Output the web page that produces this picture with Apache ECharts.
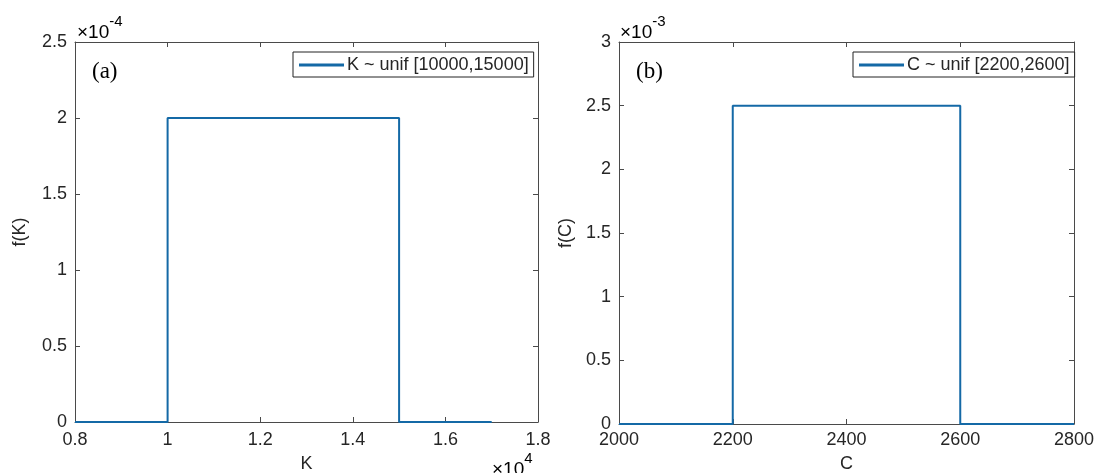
<!DOCTYPE html>
<html>
<head>
<meta charset="utf-8">
<script src="https://cdn.jsdelivr.net/npm/echarts@6/dist/echarts.min.js"></script>
<style>
html,body{margin:0;padding:0;background:#fff;}
#main{width:1098px;height:473px;}
</style>
</head>
<body>
<div id="main"></div>
<script>
// ---- data ----
const kX = [8000, 10000, 10000, 15000, 15000, 17000];
const kY = [0, 0, 2e-4, 2e-4, 0, 0];
const cX = [2000, 2200, 2200, 2200, 2600, 2600, 2800];
const cY = [0, 0, 1.25e-3, 2.5e-3, 2.5e-3, 0, 0];
const kName = 'K ~ unif [10000,15000]';
const cName = 'C ~ unif [2200,2600]';
const kXTicks = [0.8, 1, 1.2, 1.4, 1.6, 1.8];
const kYTicks = [0, 0.5, 1, 1.5, 2, 2.5];
const cXTicks = [2000, 2200, 2400, 2600, 2800];
const cYTicks = [0, 0.5, 1, 1.5, 2, 2.5, 3];

const lineColor = '#1469a6';
const axisColor = '#4a4a4a';
const textColor = '#262626';
const fontFam = '"Liberation Sans", Arial, sans-serif';
const fs = 18;

function pairs(xs, ys){ return xs.map((x,i)=>[x, ys[i]]); }
function fmt(v, s){ return String(parseFloat((v*s).toFixed(3))); }

function baseAxis(extra){
  return Object.assign({
    axisLine:{show:true, onZero:false, lineStyle:{color:axisColor, width:1}},
    axisTick:{show:true, inside:true, length:5, lineStyle:{color:axisColor}},
    splitLine:{show:false},
    nameTextStyle:{color:textColor, fontSize:fs, fontFamily:fontFam}
  }, extra);
}
function mirror(grid, min, max, interval, pos){
  return {
    type:'value', gridIndex:grid, min:min, max:max, interval:interval, position:pos,
    axisLine:{show:true, onZero:false, lineStyle:{color:axisColor, width:1}},
    axisTick:{show:true, inside:true, length:5, lineStyle:{color:axisColor}},
    axisLabel:{show:false}, splitLine:{show:false}
  };
}
function lbl(margin, formatter){
  return {color:textColor, fontSize:fs, fontFamily:fontFam, margin:margin, formatter:formatter};
}
const expRich = {
  a:{fontSize:19, fontFamily:fontFam, color:textColor, verticalAlign:'bottom', padding:[9,0,0,0]},
  b:{fontSize:15, fontFamily:fontFam, color:textColor, verticalAlign:'top'}
};

const chart = echarts.init(document.getElementById('main'));
const option = {
  backgroundColor:'#fff',
  animation:false,
  grid:[
    {left:75, top:42, width:463, height:380, containLabel:false, outerBoundsMode:'none'},
    {left:619, top:42, width:455, height:382, containLabel:false, outerBoundsMode:'none'}
  ],
  xAxis:[
    baseAxis({type:'value', gridIndex:0, min:8000, max:18000, interval:2000, position:'bottom',
      name:'K', nameLocation:'middle', nameGap:33,
      axisLabel:lbl(9, v=>fmt(v,1e-4))}),
    baseAxis({type:'value', gridIndex:1, min:2000, max:2800, interval:200, position:'bottom',
      name:'C', nameLocation:'middle', nameGap:31,
      axisLabel:lbl(7, v=>String(v))}),
    mirror(0,8000,18000,2000,'top'),
    mirror(1,2000,2800,200,'top')
  ],
  yAxis:[
    baseAxis({type:'value', gridIndex:0, min:0, max:2.5e-4, interval:0.5e-4, position:'left',
      name:'f(K)', nameLocation:'middle', nameGap:46, nameRotate:90,
      axisLabel:lbl(8, v=>fmt(v,1e4))}),
    baseAxis({type:'value', gridIndex:1, min:0, max:3e-3, interval:0.5e-3, position:'left',
      name:'f(C)', nameLocation:'middle', nameGap:44, nameRotate:90,
      axisLabel:lbl(8, v=>fmt(v,1e3))}),
    mirror(0,0,2.5e-4,0.5e-4,'right'),
    mirror(1,0,3e-3,0.5e-3,'right')
  ],
  legend:[
    {data:[kName], left:293, top:52, orient:'horizontal', backgroundColor:'#fff',
     borderColor:'#222', borderWidth:1, borderRadius:0, padding:[4,5,3,6],
     icon:'rect', itemWidth:45, itemHeight:3, itemGap:5,
     textStyle:{color:textColor, fontSize:fs, fontFamily:fontFam, padding:[0,0,0,-2]}},
    {data:[cName], left:853, top:52, orient:'horizontal', backgroundColor:'#fff',
     borderColor:'#222', borderWidth:1, borderRadius:0, padding:[4,5,3,6],
     icon:'rect', itemWidth:45, itemHeight:3, itemGap:5,
     textStyle:{color:textColor, fontSize:fs, fontFamily:fontFam, padding:[0,0,0,-2]}}
  ],
  series:[
    {name:kName, type:'line', xAxisIndex:0, yAxisIndex:0, data:pairs(kX,kY),
     showSymbol:false, symbol:'none', lineStyle:{color:lineColor, width:2}, itemStyle:{color:lineColor}},
    {name:cName, type:'line', xAxisIndex:1, yAxisIndex:1, data:pairs(cX,cY),
     showSymbol:false, symbol:'none', lineStyle:{color:lineColor, width:2}, itemStyle:{color:lineColor}}
  ],
  graphic:[
    {type:'text', left:92, top:60, style:{text:'(a)', font:'23px "Liberation Serif", "Times New Roman", serif', fill:'#000'}},
    {type:'text', left:636, top:60, style:{text:'(b)', font:'23px "Liberation Serif", "Times New Roman", serif', fill:'#000'}},
    {type:'text', left:77, top:14, style:{text:'{a|×10}{b|-4}', rich:expRich}},
    {type:'text', left:620, top:14, style:{text:'{a|×10}{b|-3}', rich:expRich}},
    {type:'text', left:492, top:451, style:{text:'{a|×10}{b|4}', rich:expRich}}
  ]
};
chart.setOption(option);
</script>
</body>
</html>
